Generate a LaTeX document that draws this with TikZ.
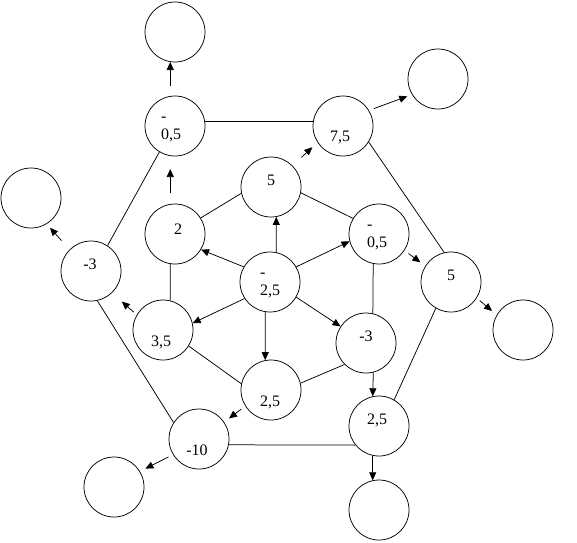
\documentclass[tikz,border=0pt]{standalone}
\usepackage{fontspec}
\setmainfont{Liberation Serif}
\usetikzlibrary{arrows.meta}
\begin{document}
\begin{tikzpicture}[x=1pt,y=-1pt,
 circ/.style={circle,draw,line width=0.75pt,minimum size=60pt,inner sep=0pt},
 lbl/.style={font=\fontsize{16}{18}\selectfont,align=left,inner sep=0pt},
 con/.style={line width=0.75pt},
 arr/.style={line width=0.75pt,-{Triangle[length=8pt,width=7pt]}}]
\useasboundingbox (0,0) rectangle (577,542);
% centre
\node[circ,label={[lbl,xshift=0pt,yshift=-4pt]center:-\\2,5}] (c) at (270,282) {};
% inner ring
\node[circ,label={[lbl,yshift=7pt]center:5}] (i1) at (271,187) {};
\node[circ,label={[lbl,xshift=-2pt,yshift=-4pt]center:-\\0,5}] (i2) at (379,234) {};
\node[circ,label={[lbl,yshift=7pt]center:-3}] (i3) at (366,343) {};
\node[circ,label={[lbl,xshift=-1pt,yshift=-12pt]center:2,5}] (i4) at (271,390) {};
\node[circ,label={[lbl,xshift=-2pt,yshift=-12pt]center:3,5}] (i5) at (163,330) {};
\node[circ,label={[lbl,xshift=3pt,yshift=5pt]center:2}] (i6) at (175,234) {};
% outer ring
\node[circ,label={[lbl,xshift=-4pt,yshift=-4pt]center:-\\0,5}] (o1) at (175,126) {};
\node[circ,label={[lbl,xshift=-3pt,yshift=-11pt]center:7,5}] (o2) at (343,126) {};
\node[circ,label={[lbl,yshift=7pt]center:5}] (o3) at (451,282) {};
\node[circ,label={[lbl,xshift=-2pt,yshift=6pt]center:2,5}] (o4) at (379,426) {};
\node[circ,label={[lbl,xshift=-2pt,yshift=-11pt]center:-10}] (o5) at (199,439) {};
\node[circ,label={[lbl,xshift=-1pt,yshift=7pt]center:-3}] (o6) at (91,271) {};
% empty
\node[circ] (e1) at (175,32) {};
\node[circ] (e2) at (438,79) {};
\node[circ] (e3) at (523,330) {};
\node[circ] (e4) at (379,510) {};
\node[circ] (e5) at (114,487) {};
\node[circ] (e6) at (31,198) {};
% centre arrows
\draw[arr] (c.78) -- (i1.-80);
\draw[arr] (c.150) -- (i6.-31);
\draw[arr] (c.213) -- (i5.13);
\draw[arr] (c.-99) -- (i4.101);
\draw[arr] (c.30) -- (i2.194);
\draw[arr] (c.-30) -- (i3.147);
% inner ring
\draw[con] (i6.32) -- (i1.192);
\draw[con] (i1.-11) -- (i2.149);
\draw[con] (i2.-101) -- (i3.77);
\draw[con] (i3.225) -- (i4.13);
\draw[con] (i5.-32) -- (i4.168);
\draw[con] (i6.-99) -- (i5.76);
% inner to outer
\draw[arr,shorten <=11pt,shorten >=13pt] (i6.99) -- (o1.-99);
\draw[arr,shorten <=12pt,shorten >=7pt] (i1.45) -- (o2.213);
\draw[arr,shorten <=5pt,shorten >=6pt] (i2.-33) -- (o3.148);
\draw[arr] (i3.-76) -- (o4.102);
\draw[arr,shorten <=5pt,shorten >=6pt] (i4.212) -- (o5.34);
\draw[arr,shorten <=4pt,shorten >=13pt] (i5.150) -- (o6.-46);
% outer ring
\draw[con] (o1.9) -- (o2.171);
\draw[con] (o2.-32) -- (o3.103);
\draw[con] (o3.240) -- (o4.60);
\draw[con] (o5.-11) -- (o4.219);
\draw[con] (o5.147) -- (o6.-78);
\draw[con] (o6.57) -- (o1.239);
% outer to empty
\draw[arr,shorten <=10pt] (o1.99) -- (e1.-99);
\draw[arr,shorten <=5pt,shorten >=5pt] (o2.31) -- (e2.211);
\draw[arr,shorten <=4pt,shorten >=6pt] (o3.-32) -- (e3.150);
\draw[arr] (o4.-102) -- (e4.102);
\draw[arr,shorten <=5pt,shorten >=6pt] (o5.211) -- (e5.31);
\draw[arr,shorten <=12pt,shorten >=5pt] (o6.135) -- (e6.-59);
\end{tikzpicture}
\end{document}
